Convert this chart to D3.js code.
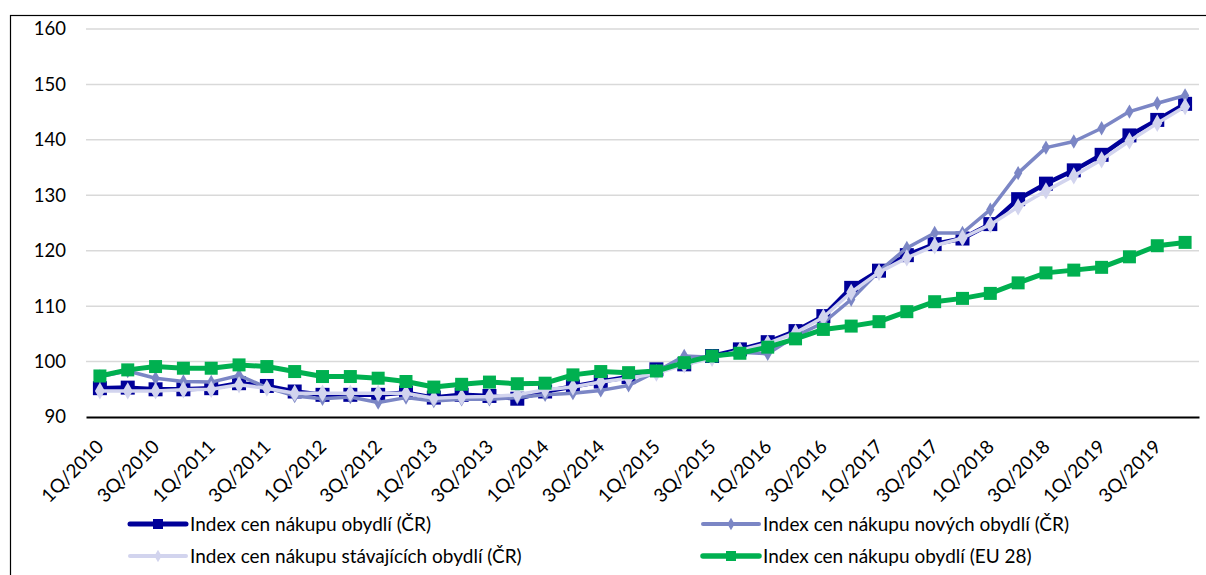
<!DOCTYPE html>
<html><head><meta charset="utf-8">
<script src="https://cdn.jsdelivr.net/npm/d3@7"></script>
<style>
html,body{margin:0;padding:0;background:#fff;}
svg{display:block;}
text{font-family:Lato,"Noto Sans",sans-serif;fill:#000;}
</style></head>
<body>
<svg id="chart" width="1206" height="575"></svg>
<script>
const years = d3.range(2010, 2020);
const quarters = years.flatMap(y => [1,2,3,4].map(q => q + "Q/" + y));
const yTicks = [90,100,110,120,130,140,150,160];

const seriesNames = [
  "Index cen nákupu obydlí (ČR)",
  "Index cen nákupu nových obydlí (ČR)",
  "Index cen nákupu stávajících obydlí (ČR)",
  "Index cen nákupu obydlí (EU 28)"
];

const indexCR = [95.2,95.3,95.0,95.0,95.2,96.1,95.6,94.6,94.0,94.0,
  94.0,94.4,93.5,94.0,93.8,93.3,94.6,95.5,96.4,97.2,
  98.6,99.5,101.0,102.2,103.5,105.5,108.2,113.3,116.4,119.2,
  121.2,122.2,124.8,129.3,132.1,134.5,137.3,140.8,143.6,146.5];
const indexNew = [97.3,98.3,97.0,96.4,96.3,97.5,95.3,93.8,93.3,93.6,
  92.6,93.5,92.9,93.2,93.2,93.5,94.0,94.3,94.8,95.7,
  98.2,101.0,100.8,101.7,101.4,104.6,107.0,111.2,116.3,120.5,
  123.2,123.2,127.4,134.0,138.6,139.7,142.1,145.1,146.6,148.0];
const indexExisting = [94.7,94.7,94.7,94.9,95.0,95.8,95.2,94.3,94.3,94.3,
  94.3,94.3,93.4,93.6,93.7,94.0,94.9,95.4,96.3,97.0,
  97.9,99.4,100.6,102.0,103.3,105.2,108.0,112.5,116.1,118.7,
  120.9,122.3,124.7,127.9,130.8,133.5,136.4,139.8,143.0,146.0];
const indexEU = [97.4,98.5,99.1,98.8,98.8,99.4,99.1,98.2,97.3,97.3,
  97.0,96.4,95.4,95.9,96.3,96.0,96.1,97.6,98.2,98.0,
  98.3,99.8,101.0,101.5,102.6,104.1,105.8,106.4,107.2,109.0,
  110.8,111.4,112.3,114.2,116.0,116.5,117.0,118.9,120.9,121.5];

const series = [
  {name: seriesNames[0], values: indexCR, color: "#000099", lw: 4.5, marker: "square", ms: 14},
  {name: seriesNames[1], values: indexNew, color: "#7B86C5", lw: 3.5, marker: "diamond", ms: 10},
  {name: seriesNames[2], values: indexExisting, color: "#D2D4EE", lw: 3.5, marker: "diamond", ms: 12},
  {name: seriesNames[3], values: indexEU, color: "#00B050", lw: 5, marker: "square", ms: 13}
];

const svg = d3.select("#chart");
const plotLeft = 86, plotRight = 1199, plotTop = 29, plotBottom = 417;

// outer frame
svg.append("rect").attr("x", 10.5).attr("y", 15.5).attr("width", 1200).attr("height", 600)
  .attr("fill", "none").attr("stroke", "#000").attr("stroke-width", 1.2);

const x = d3.scaleBand().domain(quarters).range([plotLeft, plotRight]).padding(0);
const y = d3.scaleLinear().domain([90, 160]).range([plotBottom, plotTop]);
const cx = d => x(d) + x.bandwidth() / 2;

// gridlines
svg.append("g").selectAll("line").data(yTicks.filter(t => t > 90)).join("line")
  .attr("x1", plotLeft).attr("x2", plotRight)
  .attr("y1", d => y(d)).attr("y2", d => y(d))
  .attr("stroke", "#D9D9D9").attr("stroke-width", 1.5);

// y axis labels
const yAxis = d3.axisLeft(y).tickValues(yTicks).tickSize(0).tickPadding(20);
const gy = svg.append("g").attr("transform", `translate(${plotLeft},0)`).call(yAxis);
gy.select(".domain").remove();
gy.selectAll("text").attr("font-size", 18.5).attr("font-family", "Lato").attr("fill", "#000");

// x axis
const xAxis = d3.axisBottom(x).tickValues(quarters.filter((d, i) => i % 2 === 0)).tickSize(0);
const gx = svg.append("g").attr("transform", `translate(0,${plotBottom})`).call(xAxis);
gx.select(".domain").attr("stroke", "#000").attr("stroke-width", 2);
gx.selectAll("text")
  .attr("font-size", 19).attr("font-family", "Lato").attr("fill", "#000")
  .attr("text-anchor", "end")
  .attr("dy", 0).attr("y", 0)
  .attr("transform", "translate(5,31) rotate(-45)");

// series
const line = d3.line().x((d, i) => cx(quarters[i])).y(d => y(d));
const sq = d3.symbol().type(d3.symbolSquare);
const di = d3.symbol().type(d3.symbolDiamond);

series.forEach(s => {
  const g = svg.append("g");
  g.append("path").datum(s.values).attr("d", line)
    .attr("fill", "none").attr("stroke", s.color).attr("stroke-width", s.lw)
    .attr("stroke-linejoin", "round");
  g.selectAll("path.m").data(s.values).join("path").attr("class", "m")
    .attr("transform", (d, i) => `translate(${cx(quarters[i])},${y(d)})`)
    .attr("d", s.marker === "square" ? sq.size(s.ms * s.ms)() : di.size(s.ms * s.ms * 0.6)())
    .attr("fill", s.color);
});

// legend
const legendPos = [
  {lx: 130, ly: 524}, {lx: 703, ly: 524}, {lx: 130, ly: 556}, {lx: 703, ly: 556}
];
series.forEach((s, k) => {
  const p = legendPos[k];
  const g = svg.append("g").attr("transform", `translate(${p.lx},${p.ly})`);
  g.append("line").attr("x1", 0).attr("x2", 56).attr("y1", 0).attr("y2", 0)
    .attr("stroke", s.color).attr("stroke-width", s.lw + 0.5).attr("stroke-linecap", "round");
  g.append("path").attr("transform", "translate(28,0)")
    .attr("d", s.marker === "square" ? d3.symbol().type(d3.symbolSquare).size(100)() : d3.symbol().type(d3.symbolDiamond).size(45)())
    .attr("fill", s.color);
  g.append("text").attr("x", 60).attr("y", 0).attr("dy", "0.35em")
    .attr("font-size", 19).text(s.name);
});
</script>
</body></html>
